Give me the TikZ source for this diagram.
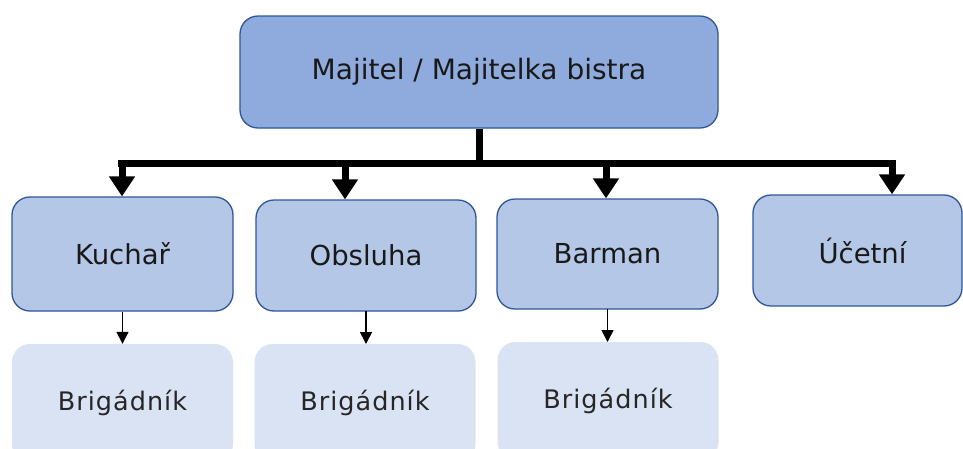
\documentclass[tikz,border=0pt]{standalone}
\usepackage{fontspec}
\setmainfont{DejaVu Sans}
\usetikzlibrary{arrows.meta}
\definecolor{topfill}{HTML}{8FAADC}
\definecolor{midfill}{HTML}{B4C7E7}
\definecolor{lowfill}{HTML}{DAE3F3}
\definecolor{edgeblue}{HTML}{2F5597}
\tikzset{
  topbox/.style={draw=edgeblue, line width=1.3pt, fill=topfill, rounded corners=18pt, minimum width=478pt, minimum height=112pt, inner sep=0pt, font=\fontsize{28}{32}\selectfont, text=black!90},
  midbox/.style={draw=edgeblue, line width=1.3pt, fill=midfill, rounded corners=18pt, inner sep=0pt, font=\fontsize{27.5}{32}\selectfont, text=black!90},
  lowbox/.style={fill=lowfill, draw=none, rounded corners=18pt, inner sep=0pt, minimum width=221pt, minimum height=118pt, font=\fontsize{25.5}{30}\selectfont\addfontfeatures{LetterSpace=4}, text=black!85},
  bigarrow/.style={line width=7pt, -{Triangle[length=20pt,width=25pt]}},
  smallarrow/.style={line width=1.6pt, -{Triangle[length=12pt,width=12pt]}},
}
\begin{document}
\begin{tikzpicture}[x=1pt,y=-1pt]
\useasboundingbox (0,0) rectangle (963,448);
\node[topbox] (owner) at (479,72) {\raisebox{-5pt}{Majitel / Majitelka bistra}};
\node[midbox, minimum width=221pt, minimum height=114pt] (kuchar) at (122.5,254) {\raisebox{-3pt}{Kuchař}};
\node[midbox, minimum width=220pt, minimum height=111pt] (obsluha) at (366,255.5) {\raisebox{-2pt}{Obsluha}};
\node[midbox, minimum width=221pt, minimum height=110pt] (barman) at (607.5,254) {\raisebox{-3pt}{Barman}};
\node[midbox, minimum width=209pt, minimum height=111pt, text width=209pt, align=center] (ucetni) at (857.5,250.5) {\hspace*{10pt}Účetní};
\node[lowbox] (b1) at (122.5,403) {\raisebox{-2pt}{Brigádník}};
\node[lowbox] (b2) at (365,403) {\raisebox{-2pt}{Brigádník}};
\node[lowbox] (b3) at (608,401) {\raisebox{-2pt}{Brigádník}};
\coordinate (hub) at (479,163);
\coordinate (barL) at (118,163);
\coordinate (barR) at (896,163);
\coordinate (a1) at (122,163);
\coordinate (a2) at (345,163);
\coordinate (a3) at (606,163);
\coordinate (a4) at (892,163);
\draw[line width=7pt] (owner.south -| hub) -- (hub);
\draw[line width=7pt] (barL) -- (barR);
\draw[bigarrow] (a1) -- (a1 |- kuchar.north);
\draw[bigarrow] (a2) -- (a2 |- obsluha.north);
\draw[bigarrow] (a3) -- (a3 |- barman.north);
\draw[bigarrow] (a4) -- (a4 |- ucetni.north);
\draw[smallarrow] (kuchar.south) -- (kuchar.south |- b1.north);
\draw[smallarrow] (366,311) -- (366,344);
\draw[smallarrow] (607.5,309) -- (607.5,342);
\end{tikzpicture}
\end{document}
